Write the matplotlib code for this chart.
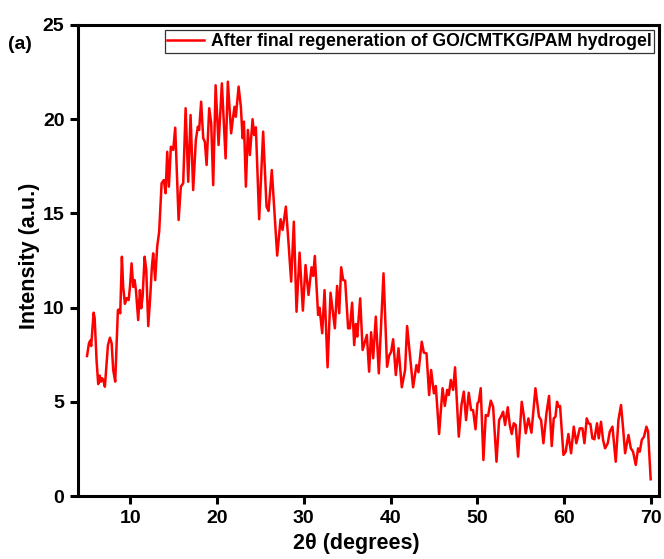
import matplotlib
matplotlib.use("Agg")
import matplotlib.pyplot as plt

plt.rcParams['font.family'] = ['Liberation Sans', 'DejaVu Sans']
plt.rcParams['font.weight'] = 'bold'

two_theta = [
    5.0, 5.22, 5.37, 5.48, 5.76, 5.88, 6.1, 6.29, 6.45, 6.6, 6.72, 6.87, 7.06, 7.26, 7.41,
    7.64, 7.84, 8.02, 8.25, 8.56, 8.71, 8.83, 9.02, 9.17, 9.37, 9.57, 9.8, 9.95, 10.14,
    10.33, 10.49, 10.64, 10.9, 11.1, 11.25, 11.41, 11.64, 11.83, 12.06, 12.29, 12.48,
    12.63, 12.86, 13.09, 13.32, 13.6, 13.86, 14.06, 14.25, 14.44, 14.67, 14.94, 15.17,
    15.56, 15.82, 16.09, 16.37, 16.67, 16.94, 17.24, 17.55, 17.78, 17.93, 18.16, 18.4,
    18.59, 18.79, 19.09, 19.32, 19.55, 19.83, 20.17, 20.55, 20.98, 21.24, 21.62, 21.85,
    22.01, 22.16, 22.48, 22.74, 22.94, 23.09, 23.32, 23.55, 23.78, 24.09, 24.27, 24.47,
    24.85, 25.31, 25.7, 25.93, 26.31, 26.93, 27.32, 27.55, 27.93, 28.24, 28.54, 28.85,
    29.16, 29.51, 29.89, 30.2, 30.54, 30.89, 31.08, 31.27, 31.65, 31.82, 32.12, 32.39,
    32.74, 33.08, 33.58, 33.84, 34.08, 34.31, 34.54, 34.77, 35.11, 35.31, 35.57, 35.81,
    36.0, 36.16, 36.5, 36.78, 37.0, 37.27, 37.53, 37.76, 38.0, 38.3, 38.65, 39.19, 39.6,
    39.84, 40.07, 40.3, 40.61, 40.92, 41.3, 41.68, 41.91, 42.22, 42.6, 42.99, 43.22,
    43.6, 43.84, 44.15, 44.45, 44.68, 45.0, 45.22, 45.6, 46.0, 46.26, 46.53, 46.72,
    46.95, 47.22, 47.44, 47.87, 48.18, 48.45, 48.71, 49.02, 49.29, 49.52, 49.8, 50.02,
    50.17, 50.4, 50.71, 50.98, 51.25, 51.56, 51.83, 52.22, 52.52, 52.83, 52.98, 53.21,
    53.52, 53.75, 53.98, 54.21, 54.44, 54.71, 55.13, 55.36, 55.59, 55.9, 56.25, 56.71,
    57.12, 57.36, 57.63, 57.98, 58.28, 58.59, 58.82, 59.02, 59.2, 59.36, 59.55, 59.94,
    60.2, 60.51, 60.82, 61.13, 61.43, 61.82, 62.13, 62.36, 62.63, 62.82, 63.05, 63.28,
    63.51, 63.81, 64.01, 64.27, 64.51, 64.74, 65.05, 65.28, 65.59, 65.97, 66.28, 66.58,
    66.82, 67.05, 67.44, 67.71, 67.97, 68.28, 68.55, 68.74, 68.97, 69.23, 69.51, 69.7,
    70.0,
]

intensity = [
    7.43, 8.1, 8.25, 7.96, 9.73, 9.45, 7.2, 5.94, 6.39, 6.07, 6.26, 6.16, 5.8, 7.05, 8.0,
    8.4, 8.1, 6.69, 6.07, 9.87, 9.9, 9.7, 12.7, 11.1, 10.2, 10.5, 10.4, 11.1, 12.35,
    11.1, 11.46, 10.93, 9.34, 10.93, 9.96, 10.58, 12.7, 12.0, 9.02, 10.58, 12.17,
    12.88, 11.46, 13.23, 14.03, 16.6, 16.77, 16.07, 18.27, 16.42, 18.54, 18.37, 19.55,
    14.65, 16.42, 16.6, 20.58, 16.68, 20.22, 16.24, 18.9, 19.6, 19.43, 20.93, 18.99,
    18.8, 17.57, 20.58, 19.78, 16.5, 21.8, 18.63, 21.9, 17.92, 21.99, 19.25, 20.13,
    20.66, 20.13, 21.73, 20.66, 18.99, 19.87, 16.42, 19.43, 18.1, 20.0, 19.16, 19.57,
    14.69, 19.34, 15.36, 15.13, 17.3, 12.76, 14.69, 14.12, 15.36, 13.41, 11.38, 14.56,
    9.78, 12.92, 9.84, 12.26, 10.67, 12.14, 11.68, 12.74, 9.61, 9.99, 8.64, 10.93,
    6.83, 10.79, 8.9, 11.15, 9.7, 12.14, 11.46, 11.43, 8.9, 8.9, 10.26, 8.01,
    9.13, 8.46, 10.49, 7.75, 8.1, 8.55, 6.6, 8.69, 7.31, 9.52, 6.51, 11.82, 6.86,
    7.45, 7.66, 8.32, 6.42, 7.84, 5.77, 6.69, 9.02, 7.54, 5.77, 6.95, 6.57,
    8.19, 7.61, 7.57, 5.36, 6.69, 5.45, 5.84, 3.29, 5.72, 4.78, 5.63, 5.36,
    6.16, 5.63, 6.83, 3.15, 4.83, 5.54, 4.03, 5.48, 4.56, 4.56, 3.54, 4.92,
    5.0, 5.72, 1.91, 4.3, 4.25, 5.06, 4.74, 1.82, 4.03, 4.3, 4.47, 3.77,
    4.71, 3.77, 3.29, 3.86, 3.77, 2.09, 5.0, 4.3, 3.33, 4.12, 3.36, 5.72,
    4.21, 4.03, 2.8, 4.39, 5.31, 2.65, 4.12, 4.21, 5.0, 4.74, 4.78, 2.18,
    2.35, 3.29, 2.27, 3.68, 2.8, 3.59, 3.59, 2.8, 4.12, 3.86, 3.82, 3.06,
    3.01, 3.86, 3.06, 3.94, 2.97, 2.53, 2.8, 3.41, 3.68, 1.82, 4.03, 4.83,
    3.59, 2.27, 3.24, 2.53, 2.35, 1.65, 2.53, 2.35, 2.97, 3.15, 3.68, 3.41,
    0.89,
]

series_label = "After final regeneration of GO/CMTKG/PAM hydrogel"
x_ticks = [10, 20, 30, 40, 50, 60, 70]
y_ticks = [0, 5, 10, 15, 20, 25]

fig = plt.figure(figsize=(6.64, 5.59), dpi=100)
ax = fig.add_axes([0.118, 0.1127, 0.875, 0.8426])

ax.plot(two_theta, intensity, color='#ff0000', lw=1.8, label=series_label)

ax.set_xlim(4, 71)
ax.set_ylim(0, 25)
ax.set_xticks(x_ticks)
ax.set_yticks(y_ticks)

for s in ax.spines.values():
    s.set_linewidth(2.2)
ax.tick_params(axis='both', which='major', direction='out', length=6, width=2.2,
               labelsize=14, pad=4)
for lab in ax.get_xticklabels() + ax.get_yticklabels():
    lab.set_fontweight('bold')

ax.set_xlabel("2\u03b8 (degrees)", fontsize=15.5, fontweight='bold')
ax.set_ylabel("Intensity (a.u.)", fontsize=15.5, fontweight='bold')
ax.xaxis.set_label_coords(0.478, -0.078)
ax.yaxis.set_label_coords(-0.066, 0.51)

leg = ax.legend(loc='upper right', fontsize=12.7, frameon=True, fancybox=False,
                edgecolor='black', handlelength=2.1, borderpad=0.15,
                borderaxespad=0.3, handletextpad=0.35)
leg.get_frame().set_linewidth(0.9)
for t in leg.get_texts():
    t.set_fontweight('bold')

fig.text(0.012, 0.912, "(a)", fontsize=14, fontweight='bold')

fig.savefig("out.png", dpi=100)
